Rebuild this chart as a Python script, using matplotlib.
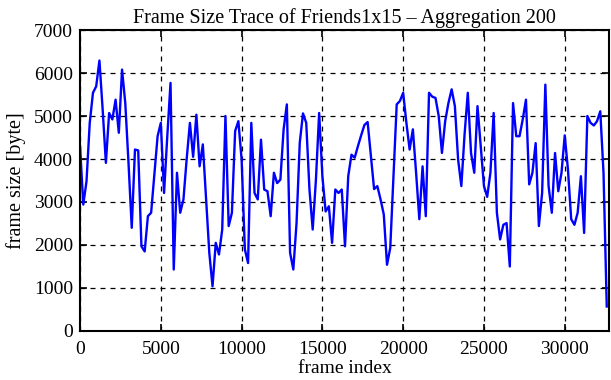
import matplotlib.pyplot as plt
import numpy as np

# aggregated frame sizes (byte), one value per 200 frames
frame_step = 200
frame_size = [
    4300, 2940, 3480, 4840, 5540, 5690, 6290, 5150, 3910, 5070,
    4920, 5380, 4610, 6080, 5300, 3910, 2400, 4220, 4200, 1970,
    1850, 2670, 2750, 3640, 4530, 4840, 3210, 4530, 5770, 1430,
    3680, 2750, 3060, 4000, 4840, 4050, 5030, 3830, 4340, 3060,
    1820, 1040, 2050, 1780, 2360, 5000, 2440, 2750, 4650, 4880,
    3990, 1900, 1580, 4840, 3210, 3060, 4450, 3290, 3250, 2670,
    3680, 3440, 3520, 4690, 5270, 1820, 1430, 2510, 4380, 5060,
    4840, 3290, 2360, 3520, 5070, 3600, 2780, 2900, 2050, 3290,
    3210, 3290, 1970, 3600, 4100, 4030, 4300, 4550, 4790, 4860,
    4070, 3300, 3370, 3060, 2710, 1540, 1930, 3600, 5270, 5350,
    5540, 4840, 4220, 4690, 3680, 2600, 3830, 2670, 5540, 5450,
    5420, 5000, 4140, 4880, 5300, 5620, 5230, 3990, 3370, 4570,
    5540, 4140, 3680, 5230, 4300, 3370, 3120, 3680, 5070, 2750,
    2130, 2470, 2510, 1500, 5300, 4530, 4530, 4920, 5380, 3410,
    3680, 4370, 2440, 3210, 5730, 3370, 2750, 4140, 3250, 3680,
    4550, 3750, 2600, 2470, 2750, 3600, 2280, 5000, 4840, 4780,
    4880, 5110, 3680, 570,
]
frame_index = np.arange(len(frame_size)) * frame_step

plt.rcParams['font.family'] = ['Liberation Serif', 'DejaVu Serif']

fig = plt.figure(figsize=(6.11, 3.80), dpi=100)
ax = fig.add_axes([0.131, 0.129, 0.866, 0.792])

ax.plot(frame_index, frame_size, color='#0000ff', lw=1.7)

ax.set_xlim(0, 32750)
ax.set_ylim(0, 7000)
ax.set_xticks(np.arange(0, 30001, 5000))
ax.set_yticks(np.arange(0, 7001, 1000))
ax.grid(True, color='black', linestyle=(0, (4, 4)), lw=0.9)
ax.tick_params(direction='in', top=True, right=True, length=5, width=1.2,
               labelsize=14)
ax.tick_params(axis='x', pad=7)
ax.tick_params(axis='y', pad=5)
for s in ax.spines.values():
    s.set_linewidth(1.5)

ax.set_title('Frame Size Trace of Friends1x15 \u2013 Aggregation 200', fontsize=14.5, pad=5)
ax.set_xlabel('frame index', fontsize=14, labelpad=2)
ax.set_ylabel('frame size [byte]', fontsize=14.5, labelpad=6)

fig.savefig('out.png', dpi=100)
